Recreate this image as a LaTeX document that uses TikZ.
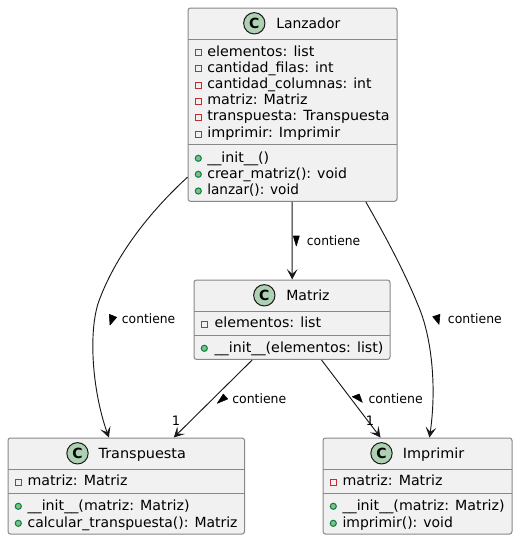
\documentclass[tikz,border=0pt]{standalone}
\usepackage{fontspec}
\usepackage{graphicx}
\setmainfont{DejaVu Sans}
\usetikzlibrary{arrows.meta}
\definecolor{boxfill}{HTML}{F1F1F1}
\definecolor{boxline}{HTML}{888888}
\definecolor{circfill}{HTML}{ADD1B2}
\definecolor{privred}{HTML}{C82930}
\definecolor{pubfill}{HTML}{84BE84}
\definecolor{publine}{HTML}{038048}
\definecolor{edgecol}{HTML}{181818}
\tikzset{
  x=0.75pt,y=-0.75pt,
  classbox/.style={draw=boxline,fill=boxfill,line width=0.75pt,rounded corners=1.9pt,inner sep=0pt,anchor=north west},
  sep/.style={draw=boxline,line width=0.75pt},
  spot/.style={circle,draw=edgecol,fill=circfill,line width=0.75pt,minimum size=16pt,inner sep=0pt,font=\fontsize{10.5pt}{10.5pt}\selectfont\bfseries},
  txt/.style={anchor=base west,inner sep=0pt,font=\fontsize{10.5pt}{12pt}\selectfont},
  lbl/.style={anchor=base west,inner sep=0pt,font=\fontsize{9.75pt}{12pt}\selectfont},
  card/.style={anchor=base,inner sep=0pt,font=\fontsize{9.75pt}{12pt}\selectfont},
  priv/.style={draw=privred,line width=0.75pt,fill=none,minimum size=4.5pt,inner sep=0pt},
  pub/.style={circle,draw=publine,fill=pubfill,line width=0.75pt,minimum size=4.6pt,inner sep=0pt},
  rel/.style={draw=edgecol,line width=0.7pt,-{Stealth[length=7.8pt,width=8pt,inset=3.6pt]}},
  dirmark/.style={fill=black,draw=black,line width=0.4pt,line join=round},
}
\newcounter{memc}
\newsavebox{\fitbox}
% #1 left px, #2 right px, #3 text: squeeze text to the reference's width
\newcommand{\fitw}[3]{\sbox{\fitbox}{#3}\pgfmathsetmacro{\sx}{(#2-#1)*0.75/(\wd\fitbox/1pt)}\scalebox{\sx}[1]{\usebox{\fitbox}}}
\newcommand{\txtat}[5][txt]{\stepcounter{memc}\node[#1] (mem\arabic{memc}) at (#2,#3) {\fitw{#2}{#4}{#5}};}
% marker x, marker y, text x, baseline, right end, text
\newcommand{\privat}[6]{\stepcounter{memc}\node[priv] (mk\arabic{memc}) at (#1,#2) {};\txtat{#3}{#4}{#5}{#6}}
\newcommand{\publ}[6]{\stepcounter{memc}\node[pub] (mk\arabic{memc}) at (#1,#2) {};\txtat{#3}{#4}{#5}{#6}}
\begin{document}
\begin{tikzpicture}
\useasboundingbox (0,0) rectangle (517,539);
% boxes
\node[classbox,minimum width=156.75pt,minimum height=145pt] (lanz) at (187.5,7.5) {};
\node[classbox,minimum width=147pt,minimum height=59.6pt] (matr) at (193.5,279.5) {};
\node[classbox,minimum width=177.4pt,minimum height=72pt] (tran) at (7.5,437.5) {};
\node[classbox,minimum width=141.75pt,minimum height=72pt] (impr) at (322.5,437.5) {};
% separators
\draw[sep] (187.5,39.5) -- (396.5,39.5) (187.5,144.5) -- (396.5,144.5);
\draw[sep] (193.5,311.5) -- (389.5,311.5) (193.5,335.5) -- (389.5,335.5);
\draw[sep] (7.5,469.5) -- (244,469.5) (7.5,493.5) -- (244,493.5);
\draw[sep] (322.5,469.5) -- (511.5,469.5) (322.5,493.5) -- (511.5,493.5);
% headers
\node[spot] (c1) at (254.3,23.3) {C}; \txtat{276}{28}{340}{Lanzador}
\node[spot] (c2) at (264.3,295.3) {C}; \txtat{286}{300}{329.3}{Matriz}
\node[spot] (c3) at (77.5,453.3) {C}; \txtat{98.3}{458}{185.7}{Transpuesta}
\node[spot] (c4) at (381.5,453.3) {C}; \txtat{402.7}{458}{464}{Imprimir}
% members
\privat{198.3}{52.3}{207}{56}{314.3}{elementos: list}
\privat{198.3}{68.3}{207}{72}{333.3}{cantidad\_filas: int}
\privat{198.3}{85}{207}{88.5}{371.3}{cantidad\_columnas: int}
\privat{198.3}{101.3}{207}{104.7}{307.3}{matriz: Matriz}
\privat{198.3}{117.3}{207}{120.7}{389.3}{transpuesta: Transpuesta}
\privat{198.3}{134}{207}{137}{340}{imprimir: Imprimir}
\publ{198.3}{158.3}{207}{162}{269}{\_\_init\_\_()}
\publ{198.3}{174.3}{207}{178}{346.7}{crear\_matriz(): void}
\publ{198.3}{191}{207}{194.3}{298.7}{lanzar(): void}
\privat{204.3}{324.3}{214.3}{327.7}{321}{elementos: list}
\publ{204.3}{348.3}{214.3}{352}{383.3}{\_\_init\_\_(elementos: list)}
\privat{18.3}{482}{27.3}{485.7}{127.3}{matriz: Matriz}
\publ{18.3}{506.3}{27.3}{510}{189.3}{\_\_init\_\_(matriz: Matriz)}
\publ{18.3}{523.3}{27.3}{527}{237.3}{calcular\_transpuesta(): Matriz}
\privat{333.3}{482}{342.3}{485.7}{442.3}{matriz: Matriz}
\publ{333.3}{506.3}{342.3}{510}{504.3}{\_\_init\_\_(matriz: Matriz)}
\publ{333.3}{523.3}{342.3}{527}{452.7}{imprimir(): void}
% connectors
\draw[rel] ([shift={(-0.3,0)}]lanz.south) -- ([shift={(0.2,0)}]matr.north);
\draw[rel] ([shift={(0,72.5)}]lanz.west) .. controls (155,207) and (118,250) .. (99.3,300) .. controls (88,330) and (92,390) .. ([shift={(-17.4,0)}]tran.north);
\draw[rel] ([shift={(73.3,0)}]lanz.south) .. controls (383,232) and (405,272) .. (420,310) .. controls (431,338) and (437,385) .. ([shift={(12,0)}]impr.north);
\draw[rel] ([shift={(-39.8,0)}]matr.south) -- ([shift={(47.5,0)}]tran.north);
\draw[rel] ([shift={(29.5,0)}]matr.south) -- ([shift={(-37,0)}]impr.north);
% direction marks
\filldraw[dirmark] (293.3,236) -- (299.3,236) -- (296.3,246) -- cycle;
\filldraw[dirmark] (109.3,314.3) -- (116.7,317.3) -- (110,325) -- cycle;
\filldraw[dirmark] (432.7,316.7) -- (440,314.3) -- (439,324.3) -- cycle;
\filldraw[dirmark] (223.3,394) -- (227.7,399) -- (217.3,403.3) -- cycle;
\filldraw[dirmark] (352.3,396.7) -- (359.3,394) -- (362.3,402.3) -- cycle;
% labels
\txtat[lbl]{306.7}{245}{360}{contiene}
\txtat[lbl]{121.7}{323.3}{175}{contiene}
\txtat[lbl]{447.7}{323.3}{501.5}{contiene}
\txtat[lbl]{232}{403}{286}{contiene}
\txtat[lbl]{368.3}{403}{422.5}{contiene}
\node[card] (n1) at (176,425.3) {1};
\node[card] (n2) at (370,425.3) {1};
\end{tikzpicture}
\end{document}
